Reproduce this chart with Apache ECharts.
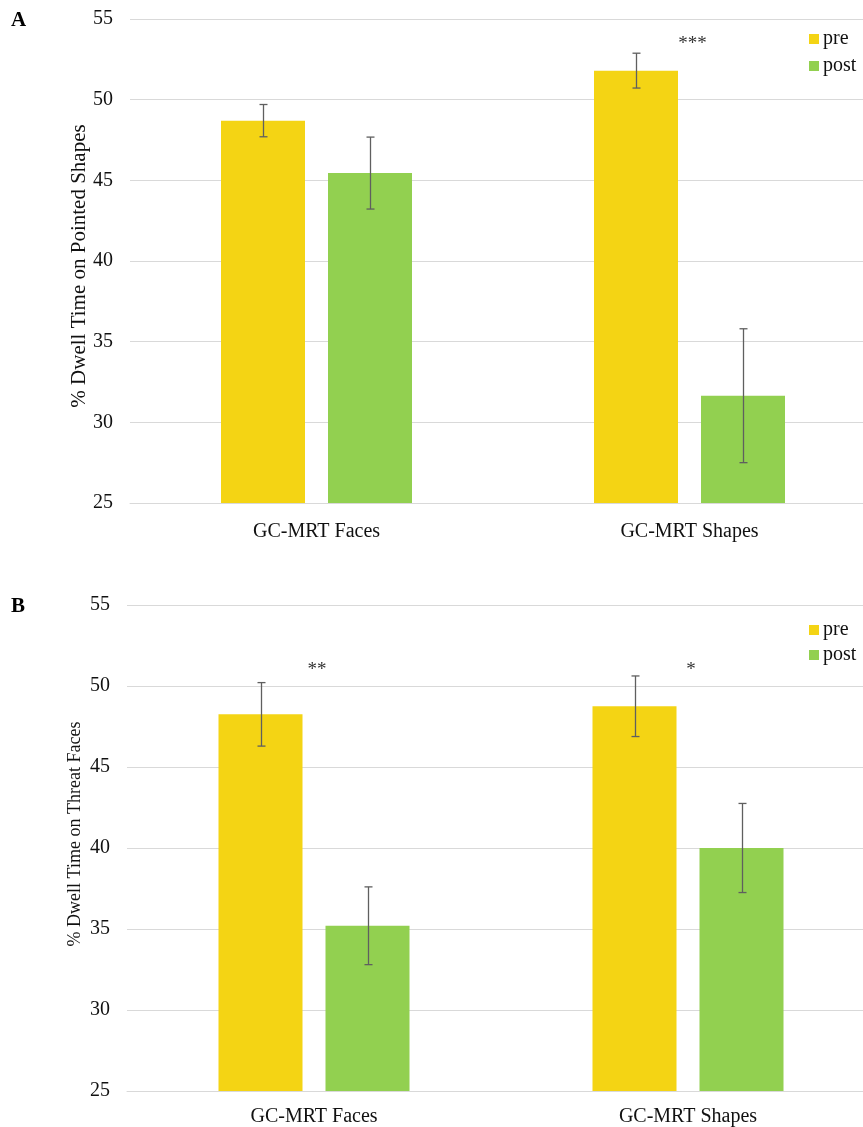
<!DOCTYPE html>
<html>
<head>
<meta charset="utf-8">
<script src="https://cdn.jsdelivr.net/npm/echarts@6/dist/echarts.min.js"></script>
<style>
  html, body { margin: 0; padding: 0; background: #fff; overflow: hidden; }
  #chart { width: 880px; height: 1127px; }
</style>
</head>
<body>
<div id="chart"></div>
<script>
// Categories and tick values
const categories = ['GC-MRT Faces', 'GC-MRT Shapes'];
const yTicks = { min: 25, max: 55, interval: 5 };
const yTitleA = '% Dwell Time on Pointed Shapes';
const yTitleB = '% Dwell Time on Threat Faces';

// Panel A: % dwell time on pointed shapes (mean, error)
const preA = [48.7, 51.8];
const preAErr = [1.0, 1.08];
const postA = [45.45, 31.65];
const postAErr = [2.23, 4.15];

// Panel B: % dwell time on threat faces (mean, error)
const preB = [48.25, 48.75];
const preBErr = [1.96, 1.87];
const postB = [35.2, 40.0];
const postBErr = [2.4, 2.75];

// Significance markers and their heights
const starsA = ['', '***'];
const starsAY = [null, 53.45];
const starsB = ['**', '*'];
const starsBY = [51.0, 51.0];

const PRE_COLOR = '#F4D414';
const POST_COLOR = '#92D050';
const FONT = '"Liberation Serif", "Times New Roman", serif';
const BAR_W = 84;
const BAR_GAP = 23;
const OFFSET = (BAR_W + BAR_GAP) / 2;

function errData(vals, errs) {
  return vals.map((v, i) => [i, v - errs[i], v + errs[i]]);
}

function errRender(offset) {
  return function (params, api) {
    const lo = api.coord([api.value(0), api.value(1)]);
    const hi = api.coord([api.value(0), api.value(2)]);
    const cx = Math.round(lo[0] + offset) + 0.5;
    const cap = 4;
    const st = { stroke: '#5f5f5f', lineWidth: 1.3 };
    return {
      type: 'group',
      children: [
        { type: 'line', shape: { x1: cx, y1: hi[1], x2: cx, y2: lo[1] }, style: st },
        { type: 'line', shape: { x1: cx - cap, y1: hi[1], x2: cx + cap, y2: hi[1] }, style: st },
        { type: 'line', shape: { x1: cx - cap, y1: lo[1], x2: cx + cap, y2: lo[1] }, style: st }
      ]
    };
  };
}

function starRender(labels) {
  return function (params, api) {
    const p = api.coord([api.value(0), api.value(1)]);
    return {
      type: 'text',
      style: {
        x: p[0] + 3, y: p[1],
        text: labels[params.dataIndex],
        fill: '#333',
        font: '19px ' + FONT,
        align: 'center', verticalAlign: 'middle'
      }
    };
  };
}

function starData(ys) {
  return ys.map((y, i) => [i, y]).filter(d => d[1] !== null);
}

function xAxisCfg(idx, margin) {
  return {
    type: 'category', gridIndex: idx, data: categories,
    axisTick: { show: false },
    axisLine: { show: true, lineStyle: { color: '#d9d9d9', width: 1 } },
    axisLabel: { color: '#111', fontFamily: FONT, fontSize: 20, margin: margin }
  };
}

function yAxisCfg(idx) {
  return {
    type: 'value', gridIndex: idx,
    min: yTicks.min, max: yTicks.max, interval: yTicks.interval,
    axisLine: { show: false }, axisTick: { show: false },
    axisLabel: { color: '#111', fontFamily: FONT, fontSize: 20, margin: 17 },
    splitLine: { lineStyle: { color: '#d9d9d9', width: 1 } }
  };
}

function legendCfg(top, gap) {
  return {
    data: ['pre', 'post'], orient: 'vertical', left: 804, top: top,
    itemWidth: 10, itemHeight: 10, itemGap: gap, icon: 'rect',
    textStyle: { color: '#111', fontFamily: FONT, fontSize: 20, padding: [0, 0, 0, -1] },
    selectedMode: false
  };
}

// Rotated axis title
function yTitle(text, x, y, size) {
  return {
    type: 'text', x: x, y: y, rotation: Math.PI / 2,
    style: { text: text, font: size + 'px ' + FONT, fill: '#111', align: 'center', verticalAlign: 'middle' }
  };
}

const barBase = { type: 'bar', barWidth: BAR_W, barGap: (BAR_GAP / BAR_W * 100) + '%' };

const option = {
  animation: false,
  backgroundColor: '#fff',
  grid: [
    { left: 130, top: 19, width: 746, height: 484 },
    { left: 127, top: 605, width: 748, height: 486 }
  ],
  graphic: [
    { type: 'text', left: 11, top: 10, style: { text: 'A', font: 'bold 21px ' + FONT, fill: '#000' } },
    { type: 'text', left: 11, top: 596, style: { text: 'B', font: 'bold 21px ' + FONT, fill: '#000' } },
    yTitle(yTitleA, 79, 266, 21),
    yTitle(yTitleB, 75, 834, 18)
  ],
  legend: [legendCfg(24, 7), legendCfg(615, 5)],
  xAxis: [xAxisCfg(0, 19), xAxisCfg(1, 16)],
  yAxis: [yAxisCfg(0), yAxisCfg(1)],
  series: [
    Object.assign({}, barBase, { name: 'pre', xAxisIndex: 0, yAxisIndex: 0, data: preA, itemStyle: { color: PRE_COLOR } }),
    Object.assign({}, barBase, { name: 'post', xAxisIndex: 0, yAxisIndex: 0, data: postA, itemStyle: { color: POST_COLOR } }),
    Object.assign({}, barBase, { name: 'pre', xAxisIndex: 1, yAxisIndex: 1, data: preB, itemStyle: { color: PRE_COLOR } }),
    Object.assign({}, barBase, { name: 'post', xAxisIndex: 1, yAxisIndex: 1, data: postB, itemStyle: { color: POST_COLOR } }),
    { type: 'custom', xAxisIndex: 0, yAxisIndex: 0, renderItem: errRender(-OFFSET), data: errData(preA, preAErr), encode: { x: 0, y: [1, 2] }, z: 5 },
    { type: 'custom', xAxisIndex: 0, yAxisIndex: 0, renderItem: errRender(OFFSET), data: errData(postA, postAErr), encode: { x: 0, y: [1, 2] }, z: 5 },
    { type: 'custom', xAxisIndex: 1, yAxisIndex: 1, renderItem: errRender(-OFFSET), data: errData(preB, preBErr), encode: { x: 0, y: [1, 2] }, z: 5 },
    { type: 'custom', xAxisIndex: 1, yAxisIndex: 1, renderItem: errRender(OFFSET), data: errData(postB, postBErr), encode: { x: 0, y: [1, 2] }, z: 5 },
    { type: 'custom', xAxisIndex: 0, yAxisIndex: 0, renderItem: starRender(starsA.filter(s => s)), data: starData(starsAY), z: 6 },
    { type: 'custom', xAxisIndex: 1, yAxisIndex: 1, renderItem: starRender(starsB), data: starData(starsBY), z: 6 }
  ]
};

const chart = echarts.init(document.getElementById('chart'), null, { renderer: 'canvas' });
chart.setOption(option);
</script>
</body>
</html>
